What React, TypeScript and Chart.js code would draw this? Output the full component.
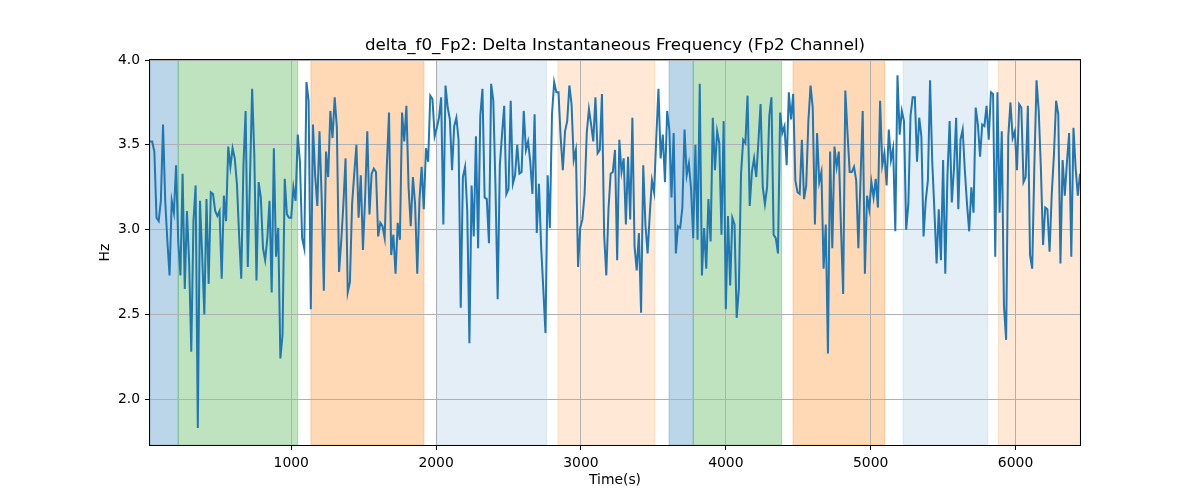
import { useEffect, useRef } from 'react'
import { Chart, registerables } from 'chart.js'

Chart.register(...registerables)

// sample times: first sample and spacing (seconds)
const T_START = 25
const T_STEP = 15

// delta f0, Fp2 channel (Hz)
const FREQ = [
  3.52, 3.52, 3.46, 3.07, 3.05, 3.17, 3.62, 3.17, 2.93, 2.73,
  3.17, 3.10, 3.38, 2.93, 2.73, 3.33, 2.65, 3.11, 2.81, 2.28,
  3.05, 3.26, 1.83, 3.17, 2.85, 2.50, 3.18, 2.68, 3.22, 3.21,
  3.11, 3.08, 3.11, 2.71, 3.20, 3.05, 3.49, 3.37, 3.48, 3.42,
  3.27, 2.97, 2.71, 3.38,
  3.70, 2.78, 3.29, 3.83, 3.44, 2.70, 3.28, 3.19, 2.89, 2.82,
  2.95, 3.17, 2.63, 3.48, 2.84, 3.01, 2.24, 2.38, 3.30, 3.09,
  3.07, 3.07, 3.25, 3.17, 3.56, 3.40, 2.95, 2.89, 3.87, 3.76,
  2.53, 3.62, 3.32, 3.14, 3.58, 3.19, 2.64, 3.46, 3.31, 3.70,
  3.54, 3.78, 3.60,
  2.75, 2.93, 3.15, 3.42, 2.63, 2.69, 3.15, 3.33, 3.50, 3.07,
  3.32, 2.88, 3.19, 3.58, 3.09, 3.33, 3.36, 3.34, 2.96, 3.04,
  3.02, 2.95, 3.38, 3.69, 2.85, 2.97, 2.74, 3.04, 2.94, 3.69,
  3.52, 3.73, 3.25, 3.02, 3.31, 3.15, 2.74, 3.17, 3.37, 3.12,
  3.48, 3.40, 3.79, 3.77,
  3.55, 3.60, 3.66, 3.78, 3.03, 3.85, 3.72, 3.65, 3.35, 3.61,
  3.66, 3.53, 2.54, 3.31, 3.37, 3.11, 2.33, 3.26, 2.96, 3.55,
  2.89, 3.67, 3.83, 3.19, 3.18, 2.92, 3.86, 3.76, 3.25, 2.59,
  3.38, 3.56, 3.73, 3.21, 3.24, 3.76, 3.27, 3.32, 3.50, 3.33,
  3.34, 3.70, 3.47, 3.52,
  3.40, 3.21, 3.68, 2.98, 3.27, 2.90, 2.65, 2.39, 3.32, 3.01,
  3.68, 3.87, 3.81, 3.81, 3.54, 3.35, 3.58, 3.64, 3.85, 3.74,
  3.41, 3.47, 2.78, 3.01, 3.06, 3.21, 3.57, 3.71, 3.62, 3.52,
  3.78, 3.45, 3.47, 3.80, 2.97, 2.73, 3.12, 3.33, 3.34, 3.47,
  2.82, 3.53, 3.34, 3.42,
  3.03, 3.43, 3.06, 3.66, 2.90, 2.76, 2.98, 2.51, 3.38, 3.03,
  2.86, 3.09, 3.29, 3.22, 3.54, 3.83, 3.42, 3.56, 3.28, 3.70,
  3.59, 3.19, 3.57, 2.86, 3.02, 3.01, 3.13, 3.59, 3.32, 3.39,
  3.24, 2.95, 3.50, 2.94, 3.86, 2.73, 3.01, 2.77, 3.18, 2.93,
  3.66, 3.35, 3.58,
  3.51, 2.97, 3.64, 2.53, 3.08, 2.67, 3.07, 3.03, 2.48, 2.65,
  3.33, 3.53, 3.51, 3.79, 3.14, 3.34, 3.42, 3.31, 3.52, 3.74,
  3.25, 3.15, 3.25, 3.67, 3.78, 2.97, 2.95, 2.86, 3.69, 3.57,
  3.61, 3.38, 3.81, 3.65, 3.80, 3.29, 3.22, 3.21, 3.53, 3.18,
  3.26, 3.64, 3.85, 3.72,
  3.03, 3.57, 3.28, 3.34, 2.77, 3.03, 2.27, 3.46, 2.89, 3.49,
  3.37, 3.46, 3.01, 2.62, 3.82, 3.57, 3.34, 3.34, 3.37, 3.29,
  2.89, 3.30, 3.70, 2.74, 3.20, 3.12, 3.28, 3.19, 3.30, 3.13,
  3.76, 3.38, 3.45, 3.26, 3.59, 3.41, 3.48, 2.99, 3.91, 3.56,
  3.70, 3.64, 3.00, 3.15,
  3.67, 3.78, 3.78, 3.40, 3.66, 3.55, 2.96, 3.17, 3.29, 3.88,
  3.40, 3.11, 2.80, 3.12, 2.82, 3.41, 2.74, 3.32, 3.64, 3.16,
  3.36, 3.66, 3.12, 3.53, 3.59, 3.35, 3.15, 2.99, 3.25, 3.10,
  3.72, 3.62, 3.43, 3.62, 3.61, 3.73, 3.53, 3.81, 3.80, 2.84,
  3.81, 3.10, 3.58, 2.55,
  2.35, 3.55, 3.75, 3.54, 3.58, 3.35, 3.74, 3.72, 3.28, 3.31,
  3.73, 2.85, 2.77, 3.38, 3.88, 3.70, 3.36, 2.91, 3.13, 3.12,
  2.87, 3.21, 3.44, 3.76, 3.68, 2.80, 3.41, 3.20, 3.40, 3.57,
  2.84, 3.60, 3.36, 3.20, 3.33,
]

const X_TICKS = [1000, 2000, 3000, 4000, 5000, 6000]
const Y_TICKS = [2.0, 2.5, 3.0, 3.5, 4.0]
const Y_MIN = 1.73
const Y_MAX = 4.0

// shaded segments (seconds)
const SPAN_START = [25, 220, 1136, 2005, 2841, 3608, 3775, 4464, 5225, 5881]
const SPAN_END = [220, 1045, 1916, 2763, 3511, 3775, 4386, 5097, 5808, 6445]
const SPAN_KIND = ['blue', 'green', 'orange', 'lightblue', 'lightorange',
  'blue', 'green', 'orange', 'lightblue', 'lightorange']

const SPAN_FILL: Record<string, string> = {
  blue: 'rgba(31,119,180,0.3)',
  green: 'rgba(44,160,44,0.3)',
  orange: 'rgba(255,127,14,0.3)',
  lightblue: 'rgba(31,119,180,0.12)',
  lightorange: 'rgba(255,127,14,0.17)',
}

const FONT = "'DejaVu Sans', sans-serif"

const spanPlugin = {
  id: 'spans',
  beforeDraw(chart: any) {
    const { ctx, chartArea, scales } = chart
    const xs = scales.x
    ctx.save()
    ctx.beginPath()
    ctx.rect(chartArea.left, chartArea.top, chartArea.right - chartArea.left, chartArea.bottom - chartArea.top)
    ctx.clip()
    SPAN_START.forEach((s, i) => {
      const x0 = xs.getPixelForValue(s)
      const x1 = xs.getPixelForValue(SPAN_END[i])
      const c = SPAN_FILL[SPAN_KIND[i]]
      ctx.fillStyle = c
      ctx.fillRect(x0, chartArea.top, x1 - x0, chartArea.bottom - chartArea.top)
      ctx.strokeStyle = c
      ctx.lineWidth = 1
      ctx.strokeRect(x0, chartArea.top, x1 - x0, chartArea.bottom - chartArea.top)
    })
    ctx.restore()
  },
}

const framePlugin = {
  id: 'frame',
  afterDatasetsDraw(chart: any) {
    const { ctx, chartArea } = chart
    ctx.save()
    ctx.strokeStyle = '#000'
    ctx.lineWidth = 1
    ctx.strokeRect(chartArea.left - 0.5, chartArea.top - 0.5,
      chartArea.right - chartArea.left + 1, chartArea.bottom - chartArea.top + 1)
    ctx.restore()
  },
}

export default function App() {
  const canvasRef = useRef<HTMLCanvasElement>(null)

  useEffect(() => {
    if (!canvasRef.current) return
    const chart = new Chart(canvasRef.current, {
      type: 'line',
      data: {
        datasets: [{
          data: FREQ.map((v, i) => ({ x: T_START + i * T_STEP, y: v })),
          borderColor: '#1f77b4',
          borderWidth: 2,
          pointRadius: 0,
          fill: false,
          tension: 0,
          yAxisID: 'y',
        }],
      },
      options: {
        responsive: false,
        animation: false,
        // left 30 / right 0 keeps the title centred over the plot area
        layout: { padding: { left: 30, right: 0, top: 0, bottom: 0 } },
        plugins: {
          legend: { display: false },
          tooltip: { enabled: false },
          title: {
            display: true,
            text: 'delta_f0_Fp2: Delta Instantaneous Frequency (Fp2 Channel)',
            color: '#000',
            font: { family: FONT, size: 16.7, weight: 'normal' },
            padding: { top: 36, bottom: 4 },
          },
        },
        scales: {
          x: {
            type: 'linear',
            min: T_START,
            max: T_START + (FREQ.length - 1) * T_STEP,
            afterBuildTicks: (s: any) => { s.ticks = X_TICKS.map(v => ({ value: v })) },
            afterFit: (s: any) => { s.height = 55 },
            grid: { color: '#b0b0b0', lineWidth: 1, tickColor: '#000', tickLength: 5 },
            border: { display: false },
            ticks: {
              color: '#000', padding: 5, maxRotation: 0, autoSkip: false,
              font: { family: FONT, size: 13.9 },
              callback: (v: any) => String(v),
            },
            title: {
              display: true, text: 'Time(s)', color: '#000',
              font: { family: FONT, size: 13.9 },
              padding: { top: 0, bottom: 11.6 },
            },
          },
          y: {
            type: 'linear',
            position: 'left',
            min: Y_MIN,
            max: Y_MAX,
            afterBuildTicks: (s: any) => { s.ticks = Y_TICKS.map(v => ({ value: v })) },
            afterFit: (s: any) => { s.width = 120 },
            grid: { color: '#b0b0b0', lineWidth: 1, tickColor: '#000', tickLength: 5 },
            border: { display: false },
            ticks: {
              color: '#000', padding: 5, autoSkip: false,
              font: { family: FONT, size: 13.9 },
              callback: (v: any) => Number(v).toFixed(1),
            },
            title: {
              display: true, text: 'Hz', color: '#000',
              font: { family: FONT, size: 13.9 },
              padding: { top: 66.7, bottom: 0 },
            },
          },
          // empty right-hand axis that only reserves the right margin
          yRight: {
            type: 'linear',
            position: 'right',
            min: Y_MIN,
            max: Y_MAX,
            afterFit: (s: any) => { s.width = 120 },
            grid: { display: false, drawTicks: false },
            border: { display: false },
            ticks: { display: false },
          },
        },
      },
      plugins: [spanPlugin, framePlugin],
    })
    return () => { chart.destroy() }
  }, [])

  return (
    <div style={{ position: 'absolute', left: 0, top: 0, width: 1200, height: 500, background: '#fff' }}>
      <canvas ref={canvasRef} width={1200} height={500} />
    </div>
  )
}
